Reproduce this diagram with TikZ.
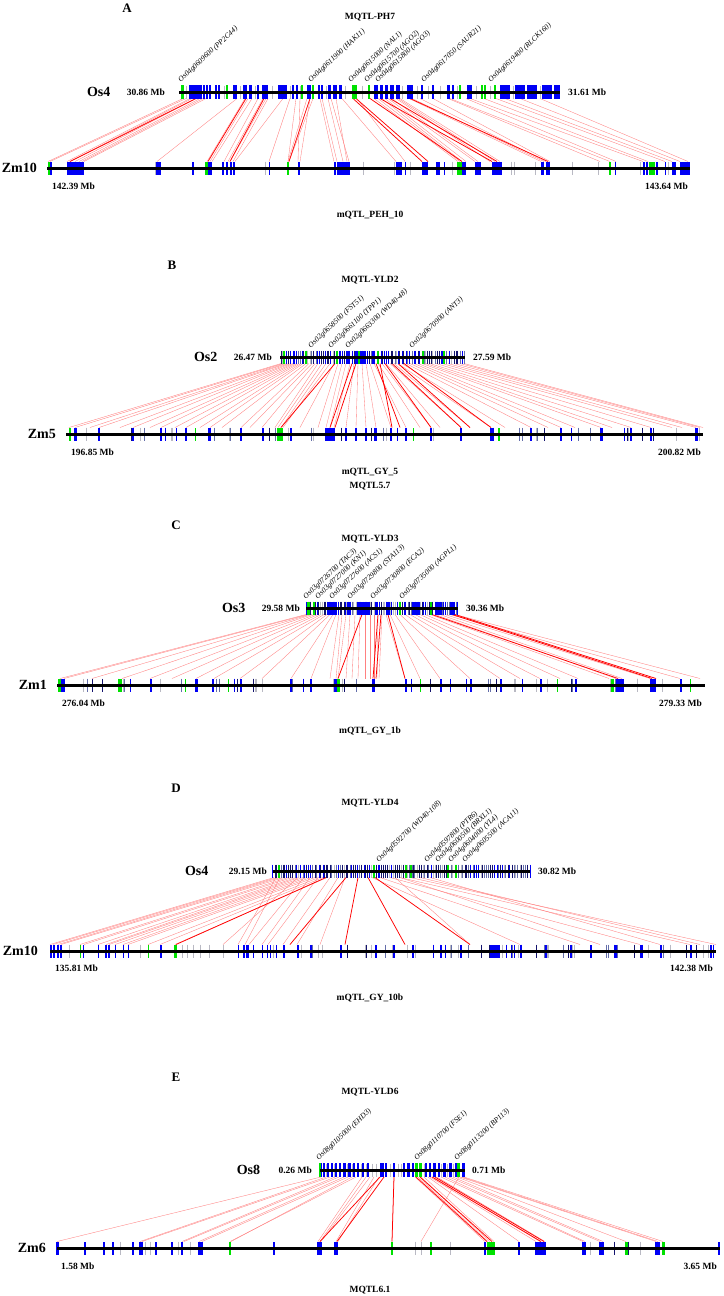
\documentclass[tikz,border=0pt]{standalone}
\usepackage{fontspec}
\setmainfont{Liberation Serif}
\definecolor{navy}{RGB}{20,20,110}
\definecolor{steel}{RGB}{100,110,170}
\definecolor{lgray}{RGB}{185,185,195}
\definecolor{gbright}{RGB}{0,225,0}
\definecolor{bbright}{RGB}{0,0,245}
\pgfmathdeclarerandomlist{tc}{{bbright}{bbright}{navy}{navy}{steel}{lgray}}
\pgfmathdeclarerandomlist{dc}{{navy}{navy}{navy}{bbright}{steel}{lgray}}
\pgfmathdeclarerandomlist{zc}{{lgray}{lgray}{steel}{navy}{bbright}}
\newcommand\mkBox[4]{\foreach \a/\b in {#4}{\fill[#2] (\a,#1-#3) rectangle (\b,#1+#3);}}
\newcommand\mkTick[3]{\foreach \a in {#3}{\draw[#2,line width=0.7pt] (\a,#1-6.5) -- (\a,#1+6.5);}}
\newcommand\mkLink[4]{\foreach \a/\b in {#4}{\draw[#3] (\a,#1) -- (\b,#2);}}
\newcommand\mkDense[6]{%
  \pgfmathsetseed{#5}%
  \pgfmathsetmacro\mystep{(#3-#2)/#4}%
  \foreach \i in {0,...,#4}{%
    \pgfmathrandomitem{\myc}{#6}%
    \pgfmathsetmacro\myx{#2+\i*\mystep+rand*0.6}%
    \draw[color=\myc,line width=0.9pt] (\myx,#1-6.5) -- (\myx,#1+6.5);}}
\newcommand\mkRand[6]{%
  \pgfmathsetseed{#5}%
  \foreach \i in {1,...,#4}{%
    \pgfmathrandomitem{\myc}{#6}%
    \pgfmathsetmacro\myx{#2+(#3-#2)*rnd}%
    \draw[color=\myc,line width=0.6pt] (\myx,#1-6.5) -- (\myx,#1+6.5);}}
\tikzset{
  plet/.style={font=\bfseries\fontsize{13}{13}\selectfont, inner sep=0},
  ttl/.style={font=\bfseries\fontsize{9.5}{9.5}\selectfont, inner sep=0},
  chrn/.style={font=\bfseries\fontsize{14}{14}\selectfont, inner sep=0},
  mbl/.style={font=\bfseries\fontsize{9.5}{9.5}\selectfont, inner sep=0},
  gl/.style={font=\itshape\fontsize{7.5}{7.5}\selectfont, rotate=43, anchor=south west, inner sep=0},
  chrbar/.style={line width=3pt, black},
  thinl/.style={red!50, line width=0.35pt},
  thickl/.style={red, line width=0.75pt},
}
\begin{document}
\begin{tikzpicture}[x=1pt,y=-1pt]
\useasboundingbox (0,0) rectangle (723,1296);
\fill[white] (0,0) rectangle (723,1296);

% ================= Panel A =================
\mkLink{98.5}{161.5}{thinl}{183/48, 186/50, 190/67, 192/70, 196/75, 200/79, 203/82, 206/84, 237/157, 245/207, 248/210, 252/212, 258/224, 263/228, 266/230, 268/233, 283/235, 290/269, 296/288, 300/298, 307/288, 310/300, 313/289, 320/334, 322/337, 328/343, 331/349, 336/347, 342/396, 357/405, 374/458, 378/460, 382/462, 385/466, 388/475, 392/478, 396/490, 398/495, 400/500, 409/541, 412/544, 420/546, 433/550, 448/600, 450/610, 466/616, 470/643, 484/648, 496/665, 505/672, 520/680, 540/688}
\mkLink{98.5}{161.5}{thickl}{196/70, 246/208, 264/230, 310/289, 353/422, 356/428, 370/462, 380/492, 390/497, 410/548}
\mkTick{92}{lgray}{186, 224, 240, 255, 272, 290, 300, 326, 345, 362, 402, 417, 428, 440, 457, 476, 490, 513, 540}
\mkBox{92}{bbright}{7}{189/202, 203/205, 206/208, 209/211, 215/217, 218/220, 233/237, 243/247, 249/252, 257/259, 262/268, 278/287, 292/294, 296/298, 307/311, 318/320, 321/323, 328/331, 333/337, 339/342, 374/378, 380/383, 385/388, 390/394, 396/400, 407/413, 421/423, 432/434, 447/450, 452/454, 467/472, 500/510, 515/525, 527/537, 542/552, 554/560}
\mkBox{92}{gbright}{7}{181/184, 226/228, 301/303, 312/314, 352/357, 368/370, 459/461, 481/483, 484/486, 494/496}
\draw[chrbar] (179,92) -- (560,92);
\mkTick{168}{lgray}{155, 265, 363, 394, 410, 452, 511, 514, 535, 572, 598, 640, 668}
\mkBox{168}{bbright}{6.5}{50/52, 67/84, 156/161, 192/194, 208/212, 222/224, 226/228, 230/232, 233/235, 269/270, 298/300, 334/336, 337/350, 396/402, 405/406, 422/428, 436/440, 444/445, 462/466, 475/481, 492/502, 541/544, 546/550, 615/616, 643/645, 646/648, 656/658, 665/666, 672/676, 680/690}
\mkBox{168}{gbright}{6.5}{48/50, 205/208, 287/289, 457/462, 609/611, 649/655}
\draw[chrbar] (47,168) -- (690,168);
\node[plet] (letA) at (127,8) {A};
\node[ttl] (titA) at (370,17) {MQTL-PH7};
\node[mbl, anchor=east] (mbA1) at (165,92) {30.86 Mb};
\node[mbl, anchor=west] (mbA2) at (568,92) {31.61 Mb};
\node[chrn, anchor=east] (osA) at ([xshift=-16pt]mbA1.west) {Os4};
\node[chrn, anchor=east] (zmA) at (37,168) {Zm10};
\node[mbl, anchor=west] (mbA3) at (52,186) {142.39 Mb};
\node[mbl, anchor=east] (mbA4) at (688,186) {143.64 Mb};
\node[ttl] (subA) at (370,215) {mQTL\_PEH\_10};
\node[gl] (gA1) at (182,84) {Os04g0609600 (PP2C44)};
\node[gl] (gA2) at (312,84) {Os04g0611900 (HAK11)};
\node[gl] (gA3) at (352,84) {Os04g0615000 (NAL1)};
\node[gl] (gA4) at (368,84) {Os04g0615700 (AGO2)};
\node[gl] (gA5) at (379,84) {Os04g0615800 (AGO3)};
\node[gl] (gA6) at (425,84) {Os04g0617050 (SAUR21)};
\node[gl] (gA7) at (492,84) {Os04g0619400 (RLCK160)};

% ================= Panel B =================
\mkLink{363.5}{427.5}{thinl}{281/69, 283/75, 285/90, 287/99, 289/120, 291/133, 293/150, 295/161, 297/175, 299/186, 301/200, 303/210, 306/222, 309/241, 312/250, 315/262, 318/275, 322/278, 326/281, 330/283, 334/300, 338/318, 342/326, 346/330, 350/334, 354/346, 358/356, 362/366, 366/376, 370/391, 374/406, 378/420, 382/431, 386/440, 390/461, 394/470, 398/491, 402/505, 406/531, 410/548, 414/561, 418/575, 422/601, 426/612, 430/631, 436/651, 442/672, 448/682, 454/696, 460/700, 464/703}
\mkLink{363.5}{427.5}{thickl}{335/281, 352/330, 356/335, 376/400, 385/431, 392/461, 398/470, 404/491, 380/392}
\mkDense{357}{281}{464}{95}{11}{tc}
\mkBox{357}{bbright}{6.5}{346/350, 355/358, 360/366, 372/374}
\mkBox{357}{gbright}{6.5}{283/284.5, 305/306.5, 336/337.5, 358/359.5, 377/378.5, 422/423.5, 443/444.5}
\draw[chrbar] (280,357) -- (465,357);
\mkRand{434}{66}{703}{45}{21}{zc}
\mkBox{434}{bbright}{6.5}{74/77, 98/100, 132/134, 160/162, 185/187, 208/211, 240/242, 262/264, 290/292, 325/335, 345/347, 355/357, 365/367, 375/377, 390/392, 405/407, 430/432, 460/462, 490/493, 530/532, 560/562, 600/603, 630/632, 650/652, 695/698}
\mkBox{434}{gbright}{6.5}{69/71, 277/283, 195/196, 413/414, 498/500}
\draw[chrbar] (66,434) -- (703,434);
\node[plet] (letB) at (172,265) {B};
\node[ttl] (titB) at (370,280) {MQTL-YLD2};
\node[mbl, anchor=east] (mbB1) at (272,357) {26.47 Mb};
\node[mbl, anchor=west] (mbB2) at (473,357) {27.59 Mb};
\node[chrn, anchor=east] (osB) at ([xshift=-16pt]mbB1.west) {Os2};
\node[chrn, anchor=east] (zmB) at (56,434) {Zm5};
\node[mbl, anchor=west] (mbB3) at (71,452) {196.85 Mb};
\node[mbl, anchor=east] (mbB4) at (701,452) {200.82 Mb};
\node[ttl] (subB1) at (370,472) {mQTL\_GY\_5};
\node[ttl] (subB2) at (370,486) {MQTL5.7};
\node[gl] (gB1) at (312,349.5) {Os02g0658500 (FST51)};
\node[gl] (gB2) at (332,349.5) {Os02g0661100 (TPP1)};
\node[gl] (gB3) at (349,349.5) {Os02g0663300 (WD40-48)};
\node[gl] (gB4) at (413,349.5) {Os02g0670900 (ANT3)};

% ================= Panel C =================
\mkLink{614.5}{678.5}{thinl}{306/60, 308/64, 310/92, 312/122, 315/150, 318/172, 321/196, 324/214, 327/240, 330/262, 333/291, 336/311, 339/330, 342/336, 346/338, 350/346, 355/352, 360/358, 365/365, 370/370, 374/374, 378/377, 382/379, 386/405, 390/420, 395/440, 400/470, 405/500, 410/520, 415/540, 420/560, 425/578, 430/609, 435/616, 440/622, 445/650, 450/680, 455/700}
\mkLink{614.5}{678.5}{thickl}{378/373, 381/376, 388/405, 432/618, 452/652, 455/656, 362/338}
\mkDense{608}{306}{458}{85}{12}{tc}
\mkBox{608}{bbright}{6.5}{327/337, 347/350, 357/370, 375/378, 387/390, 413/420, 435/442, 450/455}
\mkBox{608}{gbright}{6.5}{307/310, 313/315, 399/400.5, 430/432}
\draw[chrbar] (306,608) -- (458,608);
\mkRand{685}{57}{705}{50}{31}{zc}
\mkBox{685}{bbright}{6.5}{61/65, 150/152, 195/198, 212/214, 240/242, 290/292, 310/312, 334/337, 372/375, 405/407, 440/442, 470/472, 500/502, 540/542, 575/577, 616/624, 650/656, 680/682}
\mkBox{685}{gbright}{6.5}{58/61, 118/122, 185/186, 228/229, 337/340, 420/421, 557/558, 611/614, 690/691}
\draw[chrbar] (57,685) -- (705,685);
\node[plet] (letC) at (176,525) {C};
\node[ttl] (titC) at (370,539) {MQTL-YLD3};
\node[mbl, anchor=east] (mbC1) at (300,608) {29.58 Mb};
\node[mbl, anchor=west] (mbC2) at (466,608) {30.36 Mb};
\node[chrn, anchor=east] (osC) at ([xshift=-16pt]mbC1.west) {Os3};
\node[chrn, anchor=east] (zmC) at (47,685) {Zm1};
\node[mbl, anchor=west] (mbC3) at (62,703) {276.04 Mb};
\node[mbl, anchor=east] (mbC4) at (702,703) {279.33 Mb};
\node[ttl] (subC) at (370,731) {mQTL\_GY\_1b};
\node[gl] (gC1) at (307,600.5) {Os03g0726700 (TAC3)};
\node[gl] (gC2) at (319,600.5) {Os03g0727000 (KN1)};
\node[gl] (gC3) at (333,600.5) {Os03g0727600 (ACS1)};
\node[gl] (gC4) at (351,600.5) {Os03g0729800 (STA113)};
\node[gl] (gC5) at (374,600.5) {Os03g0730800 (ECA2)};
\node[gl] (gC6) at (403,600.5) {Os03g0735000 (AGPL1)};

% ================= Panel D =================
\mkLink{877.5}{944.5}{thinl}{274/50, 277/53, 280/58, 284/61, 288/80, 292/84, 296/98, 299/106, 303/109, 307/115, 311/123, 315/128, 319/148, 323/160, 327/175, 276/238, 280/245, 298/223, 304/249, 310/262, 318/268, 330/283, 338/297, 345/320, 372/520, 380/580, 390/640, 400/690, 410/716, 420/700, 430/660, 395/470, 400/600}
\mkLink{877.5}{944.5}{thickl}{326/176, 358/345, 346/290, 368/405, 375/470}
\mkDense{871}{273}{530}{130}{13}{dc}
\mkBox{871}{gbright}{6.5}{278/279.5, 373/374.5, 405/406.5, 410/411.5, 447/448.5, 455/456.5}
\draw[chrbar] (273,871) -- (530,871);
\mkTick{951}{lgray}{69, 140, 182, 187, 193, 200, 209, 223, 273}
\mkRand{951}{300}{716}{55}{41}{zc}
\mkBox{951}{bbright}{6.5}{50/52, 53/55, 57/59, 60/62, 83/84, 98/99, 105/107, 108/110, 115/116, 123/124, 128/129, 160/161.5, 238/239, 243/245, 246/249, 253/254, 262/263, 267/268, 270/271, 276/277, 283/285, 297/299, 310/312, 340/342, 375/377, 393/395, 412/414, 440/442, 460/462, 490/500, 520/522, 545/547, 570/572, 590/592, 615/617, 640/642, 660/662, 690/692, 710/712}
\mkBox{951}{gbright}{6.5}{80/81, 148/149, 174/177}
\draw[chrbar] (50,951) -- (716,951);
\node[plet] (letD) at (176,788) {D};
\node[ttl] (titD) at (370,803) {MQTL-YLD4};
\node[mbl, anchor=east] (mbD1) at (267,871) {29.15 Mb};
\node[mbl, anchor=west] (mbD2) at (538,871) {30.82 Mb};
\node[chrn, anchor=east] (osD) at ([xshift=-20pt]mbD1.west) {Os4};
\node[chrn, anchor=east] (zmD) at (38,951) {Zm10};
\node[mbl, anchor=west] (mbD3) at (55,968) {135.81 Mb};
\node[mbl, anchor=east] (mbD4) at (713,968) {142.38 Mb};
\node[ttl] (subD) at (370,998) {mQTL\_GY\_10b};
\node[gl] (gD1) at (380,863.5) {Os04g0592700 (WD40-108)};
\node[gl] (gD2) at (428,863.5) {Os04g0597800 (PTR6)};
\node[gl] (gD3) at (439,863.5) {Os04g0600500 (BRXL1)};
\node[gl] (gD4) at (452,863.5) {Os04g0604000 (YL4)};
\node[gl] (gD5) at (466,863.5) {Os04g0605500 (ACA11)};

% ================= Panel E =================
\mkLink{1177}{1241.5}{thinl}{321/57, 326/140, 330/142, 335/182, 339/184, 344/199, 348/202, 352/231, 356/230, 362/318, 366/320, 370/321, 374/336, 379/338, 394/392, 459/421, 415/485, 418/488, 421/490, 424/494, 428/519, 430/536, 433/540, 437/545, 441/583, 445/585, 449/600, 453/603, 457/626, 460/656, 462/658, 464/663}
\mkLink{1177}{1241.5}{thickl}{380/320, 384/337, 394/392, 416/487, 420/492, 432/541, 435/544}
\mkTick{1170}{lgray}{326, 334, 347, 352, 361, 366, 372, 376, 390, 398, 401, 424, 441, 447, 453}
\mkBox{1170}{bbright}{7}{320/322, 323/325, 327/329, 331/333, 335/337, 339/341, 343/346, 348/351, 353/355, 357/359, 362/364, 367/369, 380/384, 385/387, 393/395, 403/405, 407/410, 412/414, 425/427, 429/431, 433/436, 438/440, 443/446, 449/452, 455/457, 462/465}
\mkBox{1170}{gbright}{7}{319/320.5, 415/418, 419/422, 457/460}
\draw[chrbar] (320,1170) -- (465,1170);
\mkTick{1248}{lgray}{120, 145, 150, 178, 190, 415, 421, 450, 590, 640}
\mkTick{1248}{navy}{614, 628}
\mkBox{1248}{bbright}{6.5}{56/59, 84/86, 103/105, 112/114, 132/134, 139/143, 155/157, 171/173, 181/183, 198/203, 273/275, 317/322, 334/338, 484/486, 518/520, 535/546, 582/586, 599/604, 655/660, 718/720}
\mkBox{1248}{gbright}{6.5}{229/231, 391/393, 430/432, 487/495, 625/628, 662/665}
\draw[chrbar] (57,1248) -- (720,1248);
\node[plet] (letE) at (176,1077) {E};
\node[ttl] (titE) at (370,1092) {MQTL-YLD6};
\node[mbl, anchor=east] (mbE1) at (312,1170) {0.26 Mb};
\node[mbl, anchor=west] (mbE2) at (472,1170) {0.71 Mb};
\node[chrn, anchor=east] (osE) at ([xshift=-18pt]mbE1.west) {Os8};
\node[chrn, anchor=east] (zmE) at (46,1248) {Zm6};
\node[mbl, anchor=west] (mbE3) at (61,1266) {1.58 Mb};
\node[mbl, anchor=east] (mbE4) at (717,1266) {3.65 Mb};
\node[ttl] (subE) at (370,1290) {MQTL6.1};
\node[gl] (gE1) at (320,1162) {Os08g0105000 (EHD3)};
\node[gl] (gE2) at (418,1162) {Os08g0110700 (FSE1)};
\node[gl] (gE3) at (458,1162) {Os08g0113200 (BP113)};
\end{tikzpicture}
\end{document}
